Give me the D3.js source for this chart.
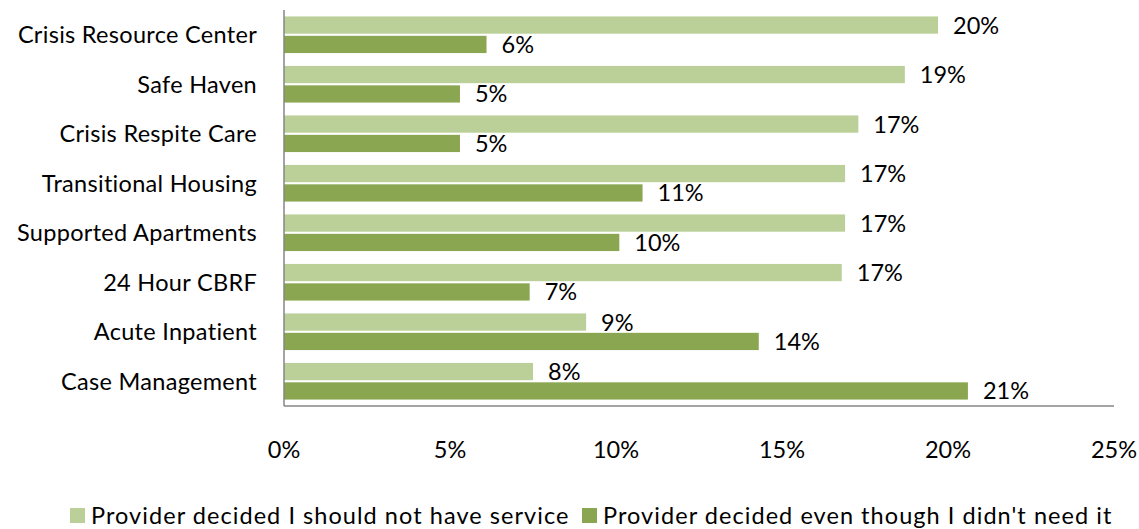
<!DOCTYPE html>
<html>
<head>
<meta charset="utf-8">
<script src="https://cdn.jsdelivr.net/npm/d3@7"></script>
<style>
  html, body { margin: 0; padding: 0; background: #fff; }
  svg { display: block; font-family: "Lato", "Open Sans", sans-serif; }
</style>
</head>
<body>
<svg id="chart" width="1139" height="529"></svg>
<script>
// Service categories, top to bottom
const categories = [
  "Crisis Resource Center",
  "Safe Haven",
  "Crisis Respite Care",
  "Transitional Housing",
  "Supported Apartments",
  "24 Hour CBRF",
  "Acute Inpatient",
  "Case Management"
];

// Percent of respondents for each reason
const seriesNames = [
  "Provider decided I should not have service",
  "Provider decided even though I didn't need it"
];
const shouldNotHave = [19.7, 18.7, 17.3, 16.9, 16.9, 16.8, 9.1, 7.5];
const didntNeed     = [6.1, 5.3, 5.3, 10.8, 10.1, 7.4, 14.3, 20.6];

const xTicks = [0, 5, 10, 15, 20, 25];
const colors = ["#bbcf98", "#8ba650"];
const FS = 23.5;

const svg = d3.select("#chart");
const margin = { left: 284, right: 25, top: 10, bottom: 123 };
const W = 1139, H = 529;

const x = d3.scaleLinear().domain([0, 25]).range([margin.left, W - margin.right]);
const y = d3.scaleBand().domain(categories).range([margin.top, H - margin.bottom])
  .paddingInner(0.26).paddingOuter(0.13);
const sub = d3.scaleBand().domain([0, 1]).range([0, y.bandwidth()]).paddingInner(0.11);

const rows = categories.map((c, i) => ({ cat: c, vals: [shouldNotHave[i], didntNeed[i]] }));

// Bars and value labels
const g = svg.append("g");
rows.forEach(r => {
  r.vals.forEach((v, s) => {
    const yy = y(r.cat) + sub(s);
    g.append("rect")
      .attr("x", x(0))
      .attr("y", yy)
      .attr("width", x(v) - x(0))
      .attr("height", sub.bandwidth())
      .attr("fill", colors[s]);
    g.append("text")
      .attr("x", x(v) + 15)
      .attr("y", yy + sub.bandwidth() / 2)
      .attr("dy", "0.36em")
      .attr("font-size", FS)
      .attr("fill", "#000")
      .text(Math.round(v) + "%");
  });
});

// Category labels
svg.append("g").selectAll("text").data(categories).join("text")
  .attr("x", margin.left - 27)
  .attr("y", d => y(d) + y.bandwidth() / 2)
  .attr("dy", "0.36em")
  .attr("text-anchor", "end")
  .attr("font-size", FS)
  .attr("letter-spacing", 0.3)
  .attr("fill", "#000")
  .text(d => d);

// Axis lines
svg.append("line")
  .attr("x1", x(0)).attr("x2", x(0))
  .attr("y1", margin.top).attr("y2", H - margin.bottom)
  .attr("stroke", "#868686").attr("stroke-width", 1.5);
svg.append("line")
  .attr("x1", x(0)).attr("x2", x(25))
  .attr("y1", H - margin.bottom).attr("y2", H - margin.bottom)
  .attr("stroke", "#868686").attr("stroke-width", 1.5);

// X tick labels
svg.append("g").selectAll("text").data(xTicks).join("text")
  .attr("x", d => x(d))
  .attr("y", 450)
  .attr("dy", "0.36em")
  .attr("text-anchor", "middle")
  .attr("font-size", FS)
  .attr("fill", "#000")
  .text(d => d + "%");

// Legend
const legend = svg.append("g");
const legendX = [70, 582];
seriesNames.forEach((n, i) => {
  legend.append("rect")
    .attr("x", legendX[i]).attr("y", 508)
    .attr("width", 15).attr("height", 15)
    .attr("fill", colors[i]);
  legend.append("text")
    .attr("x", legendX[i] + 21).attr("y", 516)
    .attr("dy", "0.36em")
    .attr("font-size", FS)
    .attr("letter-spacing", 1.05)
    .attr("fill", "#000")
    .text(n);
});
</script>
</body>
</html>
